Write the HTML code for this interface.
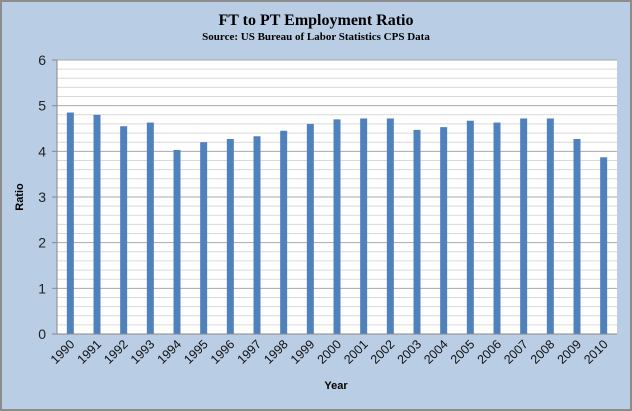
<!DOCTYPE html>
<html><head><style>body{margin:0}svg{display:block}</style></head><body>
<svg width="632" height="411" xmlns="http://www.w3.org/2000/svg">
<rect x="1" y="1" width="630" height="409" fill="#b9cde5" stroke="#8c8c8c" stroke-width="2"/>
<text x="316" y="25" text-anchor="middle" font-family="Liberation Serif, serif" font-weight="bold" font-size="16">FT to PT Employment Ratio</text>
<text x="316" y="40" text-anchor="middle" font-family="Liberation Serif, serif" font-weight="bold" font-size="11">Source: US Bureau of Labor Statistics CPS Data</text>
<rect x="57" y="60" width="560" height="274" fill="#fff"/>
<g id="grid"></g>
<g id="bars"></g>
<line x1="57" y1="60" x2="57" y2="334" stroke="#888"/>
<line x1="57" y1="334" x2="617" y2="334" stroke="#888"/>
<g font-family="Liberation Sans, sans-serif" font-size="14" fill="#222" text-anchor="end" id="ylab"></g>
<g font-family="Liberation Sans, sans-serif" font-size="12.5" fill="#111" id="xlab"></g>
<text x="23" y="197" transform="rotate(-90 23 197)" text-anchor="middle" font-family="Liberation Sans, sans-serif" font-weight="bold" font-size="11">Ratio</text>
<text x="336" y="389" text-anchor="middle" font-family="Liberation Sans, sans-serif" font-weight="bold" font-size="11">Year</text>
<script>
var ns="http://www.w3.org/2000/svg";
function el(p,t,a,txt){var e=document.createElementNS(ns,t);for(var k in a)e.setAttribute(k,a[k]);if(txt)e.textContent=txt;document.getElementById(p).appendChild(e);}
for(var i=1;i<=30;i++){var y=334-i*274/30;var maj=i%5==0;el("grid","line",{x1:57,x2:617,y1:y,y2:y,stroke:maj?"#a8a8a8":"#d9d9d9"});}
for(var i=0;i<=6;i++){var y=334-i*274/6;el("grid","line",{x1:52,x2:57,y1:y,y2:y,stroke:"#888"});el("ylab","text",{x:46,y:y+5},String(i));}
var v=[4.85,4.8,4.55,4.63,4.03,4.2,4.27,4.33,4.45,4.6,4.7,4.72,4.72,4.47,4.53,4.67,4.63,4.72,4.72,4.27,3.87];
var w=560/21;
for(var i=0;i<21;i++){var cx=57+w*(i+0.5);var h=v[i]*274/6;
el("bars","rect",{x:cx-3.5,y:334-h,width:7,height:h,fill:"#4f81bd"});
var tx=cx+5,ty=345;el("xlab","text",{x:tx,y:ty,"text-anchor":"end",transform:"rotate(-45 "+tx+" "+ty+")"},String(1990+i));}
</script>
</svg>
</body></html>
